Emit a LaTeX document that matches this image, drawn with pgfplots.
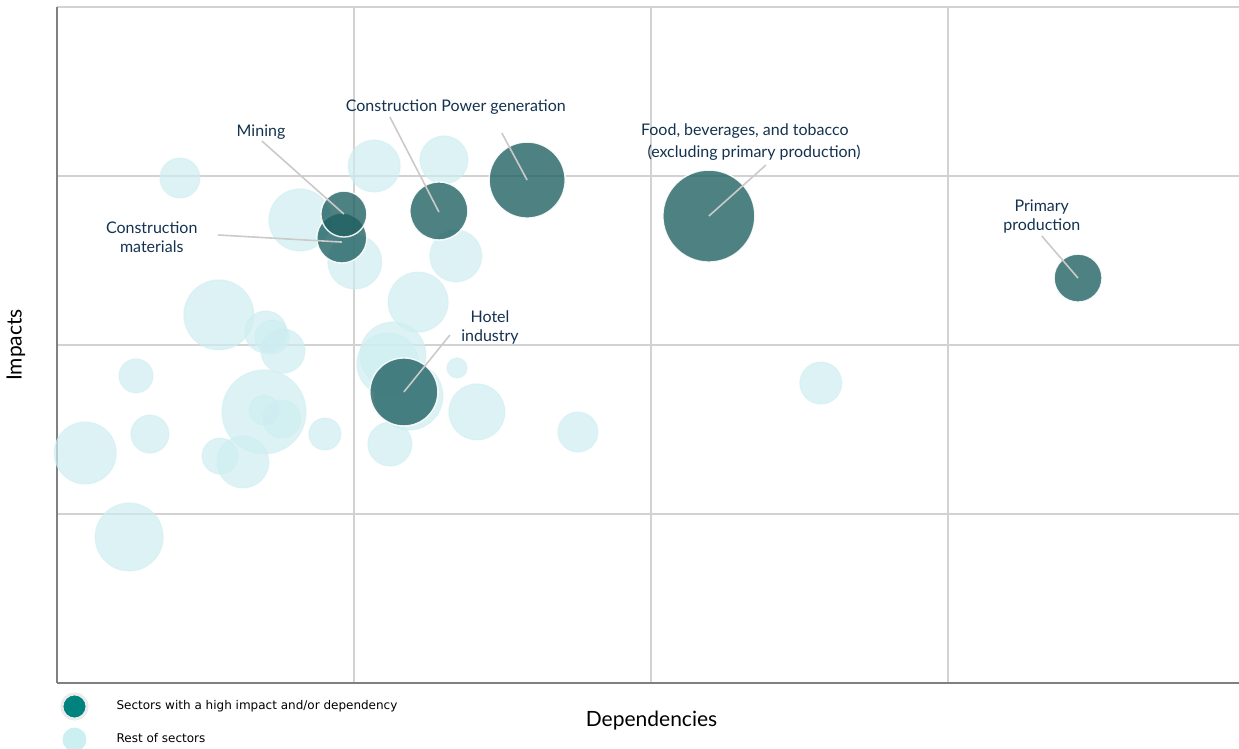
\documentclass[border=0pt]{standalone}
\usepackage{pgfplots}
\usepackage{pgfplotstable}
\pgfplotsset{compat=1.18}
\usepackage{fontspec}
\setmainfont{Lato}
\newfontfamily\legfont{DejaVu Sans}
\definecolor{darkb}{HTML}{1E5F61}
\definecolor{lightb}{HTML}{CEEDF0}
\definecolor{legdark}{HTML}{00827F}
\definecolor{leglight}{HTML}{CCF0F2}
\definecolor{txt}{HTML}{13324F}
\definecolor{gridc}{HTML}{D2D2D2}
\definecolor{leader}{HTML}{CACACA}

% rest of sectors: dependencies, impacts, bubble size
\pgfplotstableread{
x     y     s
0.414 2.988 20
1.068 3.059 26
1.303 3.095 24
0.818 2.740 31
1.003 2.491 27
1.343 2.527 26
1.216 2.254 30
0.545 2.178 35
0.703 2.077 21
0.724 2.047 17
0.761 1.964 22
1.131 1.941 33
1.114 1.888 31
1.347 1.864 10
0.266 1.817 17
0.697 1.604 42
0.697 1.615 15
0.757 1.562 19
1.414 1.604 28
0.313 1.473 19
0.902 1.473 16
1.121 1.414 22
1.754 1.485 20
2.572 1.775 21
0.095 1.361 31
0.549 1.343 18
0.626 1.308 26
0.243 0.864 34
1.185 1.698 34
}\lighttab

% sectors with a high impact and/or dependency
\pgfplotstableread{
x     y     s
0.959 2.633 25
0.966 2.775 23
1.286 2.793 29
1.583 2.976 38
2.195 2.763 46
3.438 2.396 24
1.168 1.722 34
}\darktab

\begin{document}
\begin{tikzpicture}
\begin{axis}[
  scale only axis, width=591pt, height=338pt,
  xmin=0, xmax=3.98, ymin=0, ymax=4,
  xtick={1,2,3}, ytick={1,2,3,4},
  xticklabels={}, yticklabels={}, major tick length=0pt,
  grid=major, grid style={gridc, line width=0.7pt},
  axis x line*=bottom, axis y line*=left,
  axis line style={draw=black!50, line width=0.7pt, -},
  xlabel={Dependencies}, ylabel={Impacts},
  xlabel style={at={(axis description cs:0.503,-0.0562)}, anchor=center, font=\fontsize{10.5}{12}\selectfont, text=black},
  ylabel style={at={(axis description cs:-0.0347,0.5)}, anchor=center, font=\fontsize{10.5}{12}\selectfont, text=black},
  legend style={at={(rel axis cs:0,0)}, anchor=north west, xshift=-1.5pt, yshift=-2.5pt,
    draw=none, fill=none, font=\legfont\fontsize{6}{7}\selectfont, row sep=3.5pt,
    /tikz/every odd column/.append style={column sep=12pt}},
  legend cell align=left,
]
\addlegendimage{legend image code/.code={\draw[line width=1.5pt, draw=black!8, fill=legdark] (7pt,0pt) circle (6.3pt);}}
\addlegendentry{Sectors with a high impact and/or dependency}
\addlegendimage{legend image code/.code={\fill[leglight] (7pt,0pt) circle (5.8pt);}}
\addlegendentry{Rest of sectors}

\addplot[forget plot, scatter, only marks, mark=*,
  scatter/use mapped color={draw=lightb, fill=lightb},
  mark options={fill opacity=0.7, draw opacity=0.5, line width=0.6pt},
  visualization depends on={\thisrow{s}/2 \as \rad},
  scatter/@pre marker code/.append style={/tikz/mark size=\rad pt}]
  table[x=x, y=y] \lighttab;

\addplot[forget plot, scatter, only marks, mark=*,
  scatter/use mapped color={draw=white, fill=darkb},
  mark options={fill opacity=0.79, draw opacity=0.9, line width=0.7pt},
  visualization depends on={\thisrow{s}/2 \as \rad},
  scatter/@pre marker code/.append style={/tikz/mark size=\rad pt}]
  table[x=x, y=y] \darktab;

% anchor points for leader lines
\coordinate (m1) at (axis cs:0.690,3.207); \coordinate (m2) at (axis cs:0.966,2.775);
\coordinate (c1) at (axis cs:0.542,2.651); \coordinate (c2) at (axis cs:0.959,2.609);
\coordinate (k1) at (axis cs:1.121,3.349); \coordinate (k2) at (axis cs:1.286,2.787);
\coordinate (p1) at (axis cs:1.498,3.254); \coordinate (p2) at (axis cs:1.583,2.976);
\coordinate (f1) at (axis cs:2.387,3.065); \coordinate (f2) at (axis cs:2.195,2.763);
\coordinate (r1) at (axis cs:3.316,2.645); \coordinate (r2) at (axis cs:3.438,2.396);
\coordinate (h1) at (axis cs:1.323,2.059); \coordinate (h2) at (axis cs:1.168,1.722);

% labels
\begin{scope}[every node/.style={text=txt, align=center, inner sep=0pt, font=\fontsize{8}{9.5}\selectfont}]
\node at (axis cs:0.687,3.260) {Mining};
\node at (axis cs:0.319,2.639) {Construction\\materials};
\node at (axis cs:1.343,3.408) {Construction Power generation};
\node at (axis cs:2.316,3.266) {Food, beverages, and tobacco};
\node at (axis cs:2.347,3.136) {(excluding primary production)};
\node at (axis cs:3.316,2.763) {Primary\\production};
\node at (axis cs:1.458,2.101) {Hotel\\industry};
\end{scope}
\end{axis}
\begin{scope}[leader, line width=0.8pt]
\draw (m1) -- (m2);
\draw (c1) -- (c2);
\draw (k1) -- (k2);
\draw (p1) -- (p2);
\draw (f1) -- (f2);
\draw (r1) -- (r2);
\draw (h1) -- (h2);
\end{scope}
\pgfresetboundingbox
\path[use as bounding box] (-28.5pt,-33pt) rectangle (591pt,341.5pt);
\end{tikzpicture}
\end{document}
